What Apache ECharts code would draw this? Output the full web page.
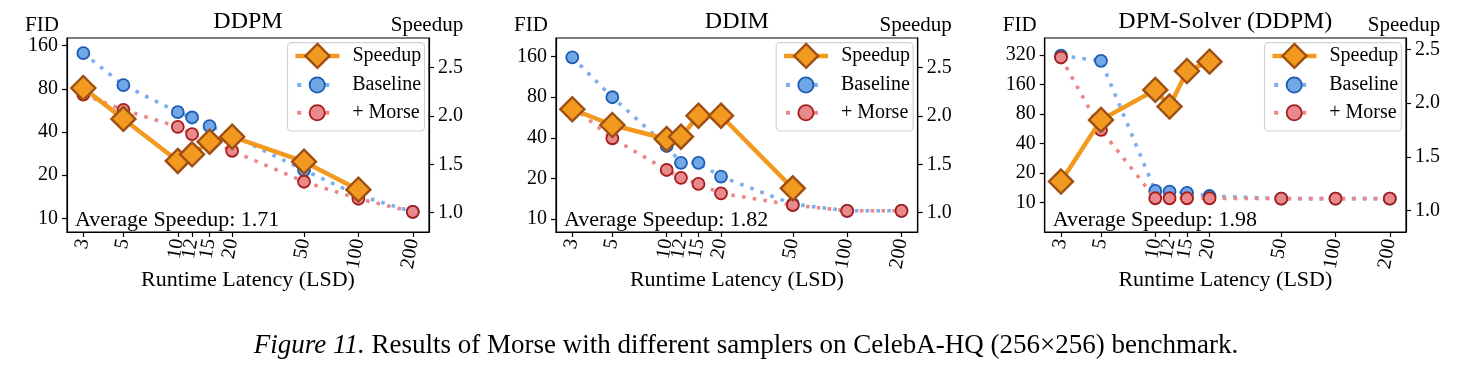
<!DOCTYPE html>
<html><head><meta charset="utf-8">
<script src="https://cdn.jsdelivr.net/npm/echarts@6/dist/echarts.min.js"></script>
<style>html,body{margin:0;padding:0;background:#fff}#c{width:1480px;height:375px}</style>
</head><body><div id="c"></div>
<script>
// ---------- data ----------
const latency = [3, 5, 10, 12, 15, 20, 50, 100, 200];
const latencyTicks = [3, 5, 10, 12, 15, 20, 50, 100, 200];
const panelTitles = ['DDPM', 'DDIM', 'DPM-Solver (DDPM)'];
const seriesNames = ['Speedup', 'Baseline', '+ Morse'];

const ddpmBaseline = [142, 85, 55, 50.5, 44, 38, 21.7, 14.5, 11.1];
const ddpmMorse    = [73, 57, 43.5, 38.7, 35, 29.6, 18, 13.7, 11.1];
const ddpmSpeedup  = [2.29, 1.97, 1.535, 1.604, 1.734, 1.786, 1.528, 1.238];

const ddimBaseline = [158, 80, 34.8, 26.1, 26.1, 20.6, 12.9, 11.5, 11.5];
const ddimMorse    = [68, 39.7, 23.1, 20.2, 18.2, 15.5, 12.7, 11.5, 11.5];
const ddimSpeedup  = [2.07, 1.907, 1.762, 1.786, 2.003, 2.003, 1.252];

const dpmBaseline  = [315, 279, 13.2, 13.0, 12.6, 11.7, 11.0, 11.0, 11.0];
const dpmMorse     = [302, 55.2, 11.1, 11.1, 11.1, 11.1, 11.0, 11.0, 11.0];
const dpmSpeedup   = [1.27, 1.843, 2.122, 1.967, 2.298, 2.385];

const fidTicks = [[10, 20, 40, 80, 160], [10, 20, 40, 80, 160], [10, 20, 40, 80, 160, 320]];
const speedupTicks = [1.0, 1.5, 2.0, 2.5];
const averageSpeedup = ['1.71', '1.82', '1.98'];
const captionItalic = 'Figure 11.';
const captionText = ' Results of Morse with different samplers on CelebA-HQ (256×256) benchmark.';

// ---------- layout / style ----------
const FONT = '"Liberation Serif", "Times New Roman", serif';
const panels = [
  { left: 67, right: 429, fidMin: 8.03, fidMax: 181, spMin: 0.8, spMax: 2.807 },
  { left: 556, right: 917.7, fidMin: 8.01, fidMax: 220, spMin: 0.8, spMax: 2.807 },
  { left: 1044.7, right: 1406, fidMin: 5.03, fidMax: 477, spMin: 0.8, spMax: 2.605 }
];
const TOP = 38, H = 194;
const baselines = [ddpmBaseline, ddimBaseline, dpmBaseline];
const morses = [ddpmMorse, ddimMorse, dpmMorse];
const speedups = [ddpmSpeedup, ddimSpeedup, dpmSpeedup];

const C = {
  orange: '#F29A1F', orangeEdge: '#9E4F14',
  blueLine: '#7AAEEE', blueFill: '#72A7E6', blueEdge: '#1C5BB6',
  redLine: '#EB8787', redFill: '#E88A8B', redEdge: '#A61C1C'
};
const styles = {
  'Speedup': { line: { color: C.orange, width: 4.5, type: 'solid' },
               item: { color: C.orange, borderColor: C.orangeEdge, borderWidth: 2.4 } },
  'Baseline': { line: { color: C.blueLine, width: 3.6, type: [3.6, 7.2] },
               item: { color: C.blueFill, borderColor: C.blueEdge, borderWidth: 1.8 } },
  '+ Morse': { line: { color: C.redLine, width: 3.6, type: [3.6, 7.2] },
               item: { color: C.redFill, borderColor: C.redEdge, borderWidth: 1.8 } }
};
const legendLine = {
  'Speedup': { color: C.orange, width: 4.5, type: 'solid' },
  'Baseline': { color: C.blueLine, width: 4, type: [4, 10], dashOffset: -2 },
  '+ Morse': { color: C.redLine, width: 4, type: [4, 10], dashOffset: -2 }
};

const grid = [], xAxis = [], yAxis = [], series = [], legend = [], graphic = [];

panels.forEach((p, i) => {
  grid.push({ left: p.left, top: TOP, width: p.right - p.left, height: H,
    show: true, borderColor: '#000', borderWidth: 1.2, backgroundColor: 'transparent',
    outerBoundsMode: 'none' });
  xAxis.push({
    type: 'log', logBase: 10, gridIndex: i, min: 2.436, max: 246,
    name: 'Runtime Latency (LSD)', nameLocation: 'middle', nameGap: 37, nameMoveOverlap: false,
    nameTextStyle: { fontFamily: FONT, fontSize: 22, color: '#000' },
    axisLine: { show: true, lineStyle: { color: '#000', width: 1.2 } },
    axisTick: { show: true, length: 5, lineStyle: { color: '#000', width: 1.2 }, customValues: latencyTicks },
    axisLabel: { rotate: 80, margin: 7, fontFamily: FONT, fontSize: 20, color: '#000',
      customValues: latencyTicks, formatter: v => String(Math.round(v)) },
    minorTick: { show: false }, splitLine: { show: false }
  });
  yAxis.push({
    type: 'log', logBase: 2, gridIndex: i, position: 'left', min: p.fidMin, max: p.fidMax,
    axisLine: { show: true, lineStyle: { color: '#000', width: 1.2 } },
    axisTick: { show: true, length: 5, lineStyle: { color: '#000', width: 1.2 }, customValues: fidTicks[i] },
    axisLabel: { margin: 9, fontFamily: FONT, fontSize: 20, color: '#000',
      customValues: fidTicks[i], formatter: v => String(Math.round(v)) },
    minorTick: { show: false }, splitLine: { show: false }
  });
  yAxis.push({
    type: 'value', gridIndex: i, position: 'right', min: p.spMin, max: p.spMax,
    axisLine: { show: true, lineStyle: { color: '#000', width: 1.2 } },
    axisTick: { show: true, length: 5, lineStyle: { color: '#000', width: 1.2 }, customValues: speedupTicks },
    axisLabel: { margin: 9, fontFamily: FONT, fontSize: 20, color: '#000',
      customValues: speedupTicks, formatter: v => v.toFixed(1) },
    splitLine: { show: false }
  });

  const common = { xAxisIndex: i, animation: false, showAllSymbol: true, emphasis: { disabled: true }, silent: true };
  series.push(Object.assign({
    name: 'Baseline', type: 'line', yAxisIndex: 2 * i,
    data: latency.map((x, k) => [x, baselines[i][k]]),
    symbol: 'circle', symbolSize: 12,
    lineStyle: styles['Baseline'].line, itemStyle: styles['Baseline'].item, z: 2
  }, common));
  series.push(Object.assign({
    name: '+ Morse', type: 'line', yAxisIndex: 2 * i,
    data: latency.map((x, k) => [x, morses[i][k]]),
    symbol: 'circle', symbolSize: 12,
    lineStyle: styles['+ Morse'].line, itemStyle: styles['+ Morse'].item, z: 3
  }, common));
  series.push(Object.assign({
    name: 'Speedup', type: 'line', yAxisIndex: 2 * i + 1,
    data: speedups[i].map((v, k) => [latency[k], v]),
    symbol: 'diamond', symbolSize: [24, 24],
    lineStyle: styles['Speedup'].line, itemStyle: styles['Speedup'].item, z: 4
  }, common));

  // legend frame + items
  const boxR = p.right - 4.5, boxL = boxR - 137;
  graphic.push({ type: 'rect', z: 5, shape: { x: boxL, y: 42.7, width: 137, height: 88.3, r: 4 },
    style: { fill: 'rgba(255,255,255,0.85)', stroke: '#d3d3d3', lineWidth: 1.2 }, silent: true });
  const rowC = [57.7, 85, 112.7];
  const iconH = [30, 19, 19];
  seriesNames.forEach((nm, k) => {
    const hh = Math.max(iconH[k], 20);
    legend.push({ data: [{ name: nm, lineStyle: legendLine[nm], itemStyle: styles[nm].item }],
      left: boxL + 5.7, top: rowC[k] - hh / 2, orient: 'vertical',
      itemWidth: 44, itemHeight: iconH[k], padding: 0, itemGap: 0, selectedMode: false, z: 6,
      textStyle: { fontFamily: FONT, fontSize: 20, color: '#000', padding: [0, 0, 0, 8] } });
  });

  const cx = (p.left + p.right) / 2;
  graphic.push({ type: 'text', x: cx, y: 22, silent: true,
    style: { text: panelTitles[i], fontFamily: FONT, fontSize: 24, fill: '#000', align: 'center', verticalAlign: 'middle' } });
  graphic.push({ type: 'text', x: p.left - 25, y: 25.5, silent: true,
    style: { text: 'FID', fontFamily: FONT, fontSize: 21, fill: '#000', align: 'center', verticalAlign: 'middle' } });
  graphic.push({ type: 'text', x: p.right - 2, y: 25.5, silent: true,
    style: { text: 'Speedup', fontFamily: FONT, fontSize: 21, fill: '#000', align: 'center', verticalAlign: 'middle' } });
  graphic.push({ type: 'text', x: p.left + 8, y: 220, z: 7, silent: true,
    style: { text: 'Average Speedup: ' + averageSpeedup[i], fontFamily: FONT, fontSize: 22, fill: '#000', align: 'left', verticalAlign: 'middle' } });
});

graphic.push({ type: 'text', x: 746, y: 346, silent: true,
  style: { text: '{i|' + captionItalic + '}{n|' + captionText + '}', align: 'center', verticalAlign: 'middle',
    fontFamily: FONT, fontSize: 27, fill: '#000',
    rich: { i: { fontFamily: FONT, fontSize: 27, fontStyle: 'italic', fill: '#000' },
            n: { fontFamily: FONT, fontSize: 27, fill: '#000' } } } });

const chart = echarts.init(document.getElementById('c'), null, { renderer: 'canvas' });
chart.setOption({ animation: false, backgroundColor: '#fff', grid, xAxis, yAxis, series, legend, graphic });
</script></body></html>
